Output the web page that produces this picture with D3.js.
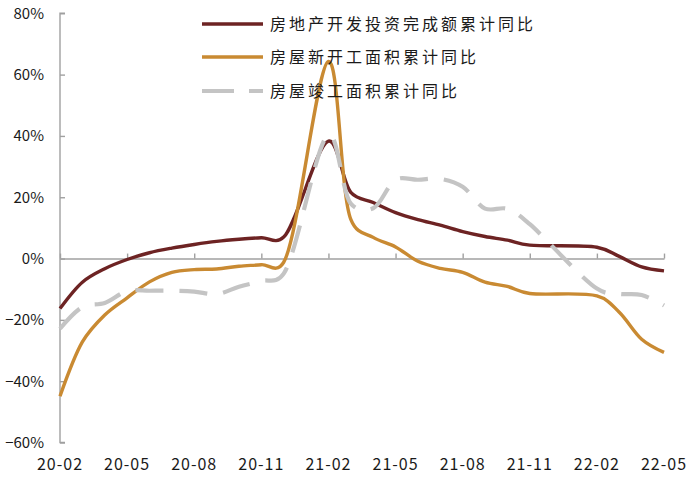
<!DOCTYPE html>
<html>
<head>
<meta charset="utf-8">
<script src="https://cdn.jsdelivr.net/npm/d3@7"></script>
<style>
  body { margin: 0; background: #fff; }
  svg { display: block; }
  .tick_label { font-family: "Noto Sans CJK SC", "Noto Sans", sans-serif; fill: #1a1a1a; }
  .legend_label { font-family: "Noto Sans CJK SC", sans-serif; font-size: 16px; fill: #1a1a1a; letter-spacing: 3px; }
</style>
</head>
<body>
<svg id="chart" width="700" height="482"></svg>
<script>
// DATA (cumulative YoY, %), months as shown on the chart
var months = ["20-02","20-03","20-04","20-05","20-06","20-07","20-08","20-09","20-10","20-11","20-12",
              "21-02","21-03","21-04","21-05","21-06","21-07","21-08","21-09","21-10","21-11",
              "22-02","22-03","22-04","22-05"];
var investment = [-16.3,-7.7,-3.3,-0.3,1.9,3.4,4.6,5.6,6.3,6.8,7.0,
                  38.3,21.6,18.3,15.0,12.7,10.9,8.8,7.2,6.0,4.4,
                  3.7,0.7,-2.7,-4.0];
var newStarts = [-44.9,-27.2,-18.4,-12.8,-7.6,-4.5,-3.6,-3.4,-2.5,-2.0,-1.2,
                 64.3,12.8,6.9,3.8,-0.9,-3.2,-4.5,-7.7,-9.1,-11.4,
                 -12.2,-17.5,-26.3,-30.6];
var completions = [-22.9,-15.8,-14.5,-10.6,-10.5,-10.5,-10.8,-11.6,-9.2,-7.3,-4.9,
                   40.4,17.9,16.4,25.7,25.7,26.0,23.4,16.3,16.2,11.2,
                   -9.8,-11.5,-11.9,-15.3];
var seriesNames = ["房地产开发投资完成额累计同比", "房屋新开工面积累计同比", "房屋竣工面积累计同比"];
var xTickLabels = ["20-02","20-05","20-08","20-11","21-02","21-05","21-08","21-11","22-02","22-05"];
var yTicks = [-60,-40,-20,0,20,40,60,80];

// month label -> month index from 20-02
var monthIndex = m => (Number(m.slice(0, 2)) - 20) * 12 + Number(m.slice(3)) - 2;

var svg = d3.select("#chart");

var plot_left = 60, plot_right = 664, plot_top = 13.3, plot_bottom = 442.5;

var xScale = d3.scaleLinear()
  .domain([0, monthIndex("22-05")])
  .range([plot_left, plot_right]);

var yScale = d3.scaleLinear()
  .domain([-60, 80])
  .range([plot_bottom, plot_top]);

// Y AXIS
var yAxis = svg.append("g")
  .attr("transform", "translate(" + plot_left + ",0)")
  .call(d3.axisRight(yScale).tickValues(yTicks).tickSize(5).tickFormat(""));
yAxis.selectAll("path, line").attr("stroke", "#a0a0a0").attr("stroke-width", 1.4);
yAxis.select(".domain").attr("d", "M5," + plot_top + "H0V" + plot_bottom + "H5");

svg.append("g").selectAll("text")
  .data(yTicks)
  .enter().append("text")
  .attr("class", "tick_label")
  .attr("x", 44)
  .attr("y", d => yScale(d) + 5.5)
  .attr("text-anchor", "end")
  .style("font-size", "15px")
  .text(d => d3.format(".0%")(d / 100));

// X AXIS (at 0%)
var xAxis = svg.append("g")
  .attr("transform", "translate(0," + yScale(0) + ")")
  .call(d3.axisTop(xScale).tickValues(xTickLabels.map(monthIndex)).tickSize(5).tickSizeOuter(0).tickFormat(""));
xAxis.selectAll("path, line").attr("stroke", "#a0a0a0").attr("stroke-width", 1.4);

svg.append("g").selectAll("text")
  .data(xTickLabels)
  .enter().append("text")
  .attr("class", "tick_label")
  .attr("x", d => xScale(monthIndex(d)))
  .attr("y", 470)
  .attr("text-anchor", "middle")
  .style("font-size", "16px")
  .style("letter-spacing", "1px")
  .text(d => d);

// LINES
var series = [
  { name: seriesNames[0], values: investment, colour: "#6d2323", width: 3.4, dash: null },
  { name: seriesNames[1], values: newStarts, colour: "#c98a32", width: 3.4, dash: null },
  { name: seriesNames[2], values: completions, colour: "#c4c4c4", width: 4.2, dash: "28,16" }
];

var line = d3.line()
  .x(d => xScale(monthIndex(d[0])))
  .y(d => yScale(d[1]))
  .curve(d3.curveCatmullRom.alpha(0.3));

series.forEach(s => {
  svg.append("path")
    .datum(d3.zip(months, s.values))
    .attr("d", line)
    .attr("fill", "none")
    .attr("stroke", s.colour)
    .attr("stroke-width", s.width)
    .attr("stroke-dasharray", s.dash)
    .attr("stroke-linejoin", "round");
});

// LEGEND
var legend = svg.append("g").selectAll("g")
  .data(series)
  .enter().append("g")
  .attr("transform", (d, i) => "translate(202," + [24, 57, 91][i] + ")");

legend.append("line")
  .attr("x1", 0).attr("x2", 61)
  .attr("stroke", d => d.colour)
  .attr("stroke-width", d => d.width)
  .attr("stroke-dasharray", d => d.dash ? "32,15" : null);

legend.append("text")
  .attr("class", "legend_label")
  .attr("x", 68)
  .attr("y", 6)
  .text(d => d.name);
</script>
</body>
</html>
